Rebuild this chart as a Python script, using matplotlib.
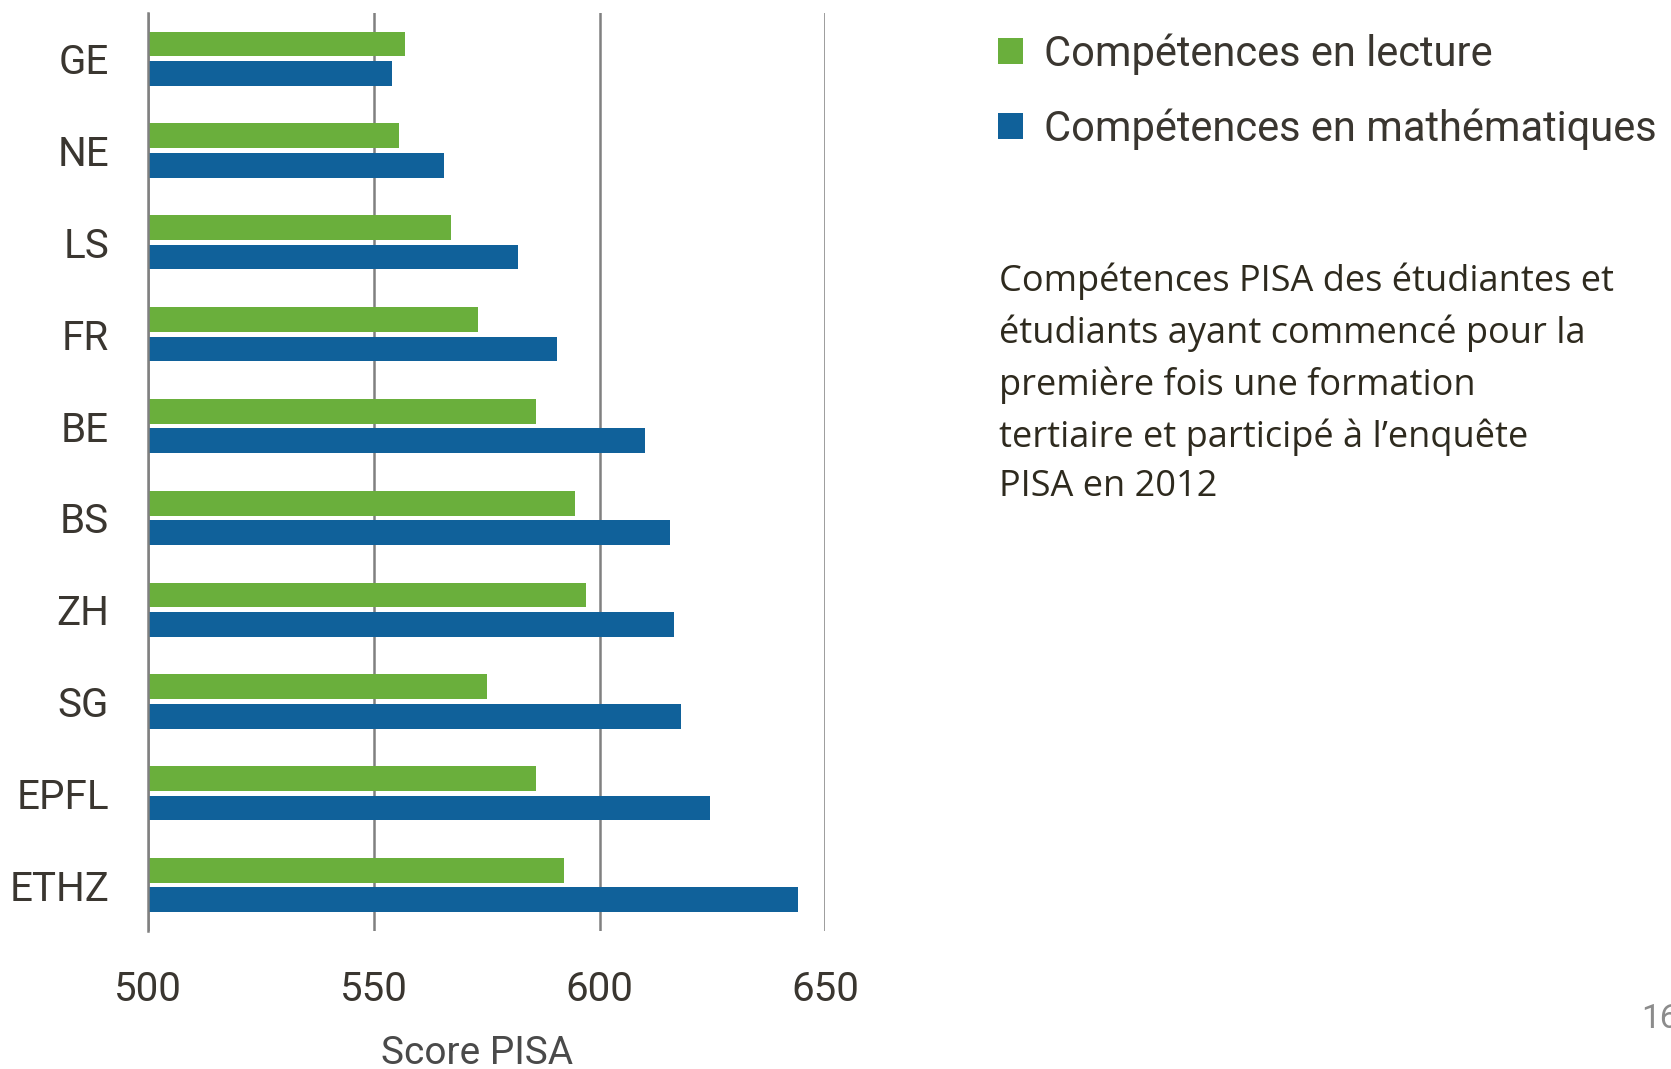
import matplotlib.pyplot as plt
import numpy as np

schools = ['GE', 'NE', 'LS', 'FR', 'BE', 'BS', 'ZH', 'SG', 'EPFL', 'ETHZ']
lecture = [557, 555.5, 567, 573, 586, 594.5, 597, 575, 586, 592]
maths = [554, 565.5, 582, 590.5, 610, 615.5, 616.5, 618, 624.5, 644]
xticks = [500, 550, 600, 650]

green = '#6aaf3c'
blue = '#10619a'
txt = '#3a3630'

fig = plt.figure(figsize=(16.71, 10.69), dpi=100)
ax = fig.add_axes([0.0886, 0.129, 0.4054, 0.859])

y = np.arange(len(schools))
h = 0.27
ax.barh(y - 0.16, lecture, height=h, left=0, color=green, zorder=3,
        label='Compétences en lecture')
ax.barh(y + 0.16, maths, height=h, left=0, color=blue, zorder=3,
        label='Compétences en mathématiques')

ax.set_xlim(500, 650)
ax.set_ylim(len(schools) - 0.5, -0.5)
ax.set_yticks(y)
ax.set_yticklabels(schools)
ax.set_xticks(xticks)
ax.tick_params(length=0, labelsize=29, labelcolor=txt, pad=28)
for t in ax.get_xticklabels() + ax.get_yticklabels():
    t.set_family('Roboto')
ax.grid(axis='x', color='#808080', lw=1.8, zorder=0)
for s in ['top', 'right', 'bottom']:
    ax.spines[s].set_visible(False)
ax.spines['left'].set_color('#808080')
ax.spines['left'].set_linewidth(1.8)
ax.spines['left'].set_zorder(4)

ax.set_xlabel('Score PISA', fontsize=28, color='#4a4a4a', family='Roboto')
ax.xaxis.set_label_coords(0.485, -0.113)

fig.legend(loc='upper left', bbox_to_anchor=(0.575, 1.004), frameon=False,
           prop={'family': 'Roboto', 'size': 30}, labelcolor=txt,
           handlelength=0.6, handleheight=0.6, handletextpad=0.5,
           labelspacing=0.8)

fig.text(0.598, 0.754,
         'Compétences PISA des étudiantes et\n'
         'étudiants ayant commencé pour la\n'
         'première fois une formation\n'
         'tertiaire et participé à l\u2019enquête\n'
         'PISA en 2012',
         fontsize=26, family='Open Sans', color='#2e2a1e', va='top',
         linespacing=1.5)

fig.text(0.982, 0.038, '16', fontsize=24, color='#8c8c8c', family='Roboto')

plt.savefig('out.png', dpi=100)
